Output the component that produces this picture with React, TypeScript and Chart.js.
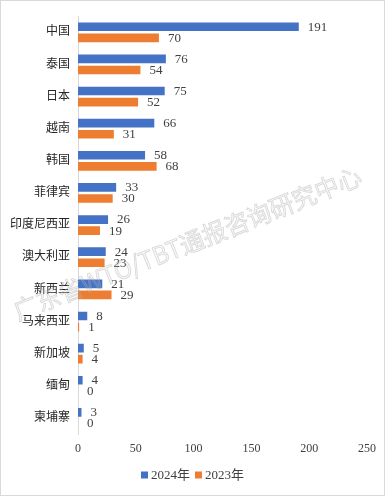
import React, { useEffect, useRef } from 'react';
import { Chart, registerables } from 'chart.js';

Chart.register(...registerables);

const categories = ['中国', '泰国', '日本', '越南', '韩国', '菲律宾', '印度尼西亚', '澳大利亚', '新西兰', '马来西亚', '新加坡', '缅甸', '柬埔寨'];
const values2024 = [191, 76, 75, 66, 58, 33, 26, 24, 21, 8, 5, 4, 3];
const values2023 = [70, 54, 52, 31, 68, 30, 19, 23, 29, 1, 4, 0, 0];
const seriesNames = ['2024年', '2023年'];
const seriesColors = ['#4472C4', '#ED7D31'];
const xMin = 0;
const xMax = 250;
const xStep = 50;
const watermarkText = '广东省WTO/TBT通报咨询研究中心';

const SERIF = '"Liberation Serif", "Times New Roman", "Noto Sans CJK SC", serif';
const W = 383;
const H = 494;

const labelPlugin = {
  id: 'valueLabels',
  afterDatasetsDraw(chart: any) {
    const ctx = chart.ctx;
    ctx.save();
    ctx.font = '13px ' + SERIF;
    ctx.fillStyle = '#404040';
    ctx.textAlign = 'left';
    ctx.textBaseline = 'middle';
    chart.data.datasets.forEach((ds: any, di: number) => {
      const meta = chart.getDatasetMeta(di);
      meta.data.forEach((el: any, i: number) => {
        ctx.fillText(String(ds.data[i]), el.x + 9, el.y + 0.5);
      });
    });
    ctx.restore();
  },
};

const legendPlugin = {
  id: 'customLegend',
  afterDraw(chart: any) {
    const ctx = chart.ctx;
    ctx.save();
    ctx.font = '13px ' + SERIF;
    ctx.textBaseline = 'middle';
    ctx.textAlign = 'left';
    const box = 7;
    const gapText = 3;
    const gapItem = 5;
    const widths = seriesNames.map((n) => ctx.measureText(n).width);
    const total = widths.reduce((a, b) => a + b, 0) + seriesNames.length * (box + gapText) + gapItem * (seriesNames.length - 1);
    let x = W / 2 - total / 2;
    const cy = 474;
    seriesNames.forEach((n, i) => {
      ctx.fillStyle = seriesColors[i];
      ctx.fillRect(x, cy - box / 2, box, box);
      x += box + gapText;
      ctx.fillStyle = '#404040';
      ctx.fillText(n, x, cy + 0.5);
      x += widths[i] + gapItem;
    });
    ctx.restore();
  },
};

const watermarkPlugin = {
  id: 'watermark',
  afterDraw(chart: any) {
    const ctx = chart.ctx;
    ctx.save();
    ctx.translate(17, 320);
    ctx.rotate(-21.7 * Math.PI / 180);
    ctx.font = '25px "Noto Sans CJK SC", sans-serif';
    ctx.textBaseline = 'alphabetic';
    ctx.textAlign = 'left';
    ctx.fillStyle = 'rgba(200,200,200,0.15)';
    ctx.fillText(watermarkText, 0, 0, 372);
    ctx.strokeStyle = 'rgba(170,170,170,0.45)';
    ctx.lineWidth = 0.8;
    ctx.strokeText(watermarkText, 0, 0, 372);
    ctx.restore();
  },
};

export default function App() {
  const ref = useRef<HTMLCanvasElement | null>(null);

  useEffect(() => {
    document.body.style.margin = '0';
    if (!ref.current) return;
    const chart = new Chart(ref.current, {
      type: 'bar',
      data: {
        labels: categories,
        datasets: [
          { label: seriesNames[0], data: values2024, backgroundColor: seriesColors[0], borderWidth: 0, categoryPercentage: 0.69, barPercentage: 0.78 },
          { label: seriesNames[1], data: values2023, backgroundColor: seriesColors[1], borderWidth: 0, categoryPercentage: 0.69, barPercentage: 0.78 },
        ],
      },
      options: {
        indexAxis: 'y',
        responsive: false,
        animation: false,
        devicePixelRatio: 1,
        layout: { padding: { top: 15, right: 16, bottom: 0, left: 0 } },
        plugins: {
          legend: { display: false },
          tooltip: { enabled: false },
        },
        scales: {
          x: {
            min: xMin,
            max: xMax,
            ticks: { stepSize: xStep, padding: 8, color: '#404040', font: { family: SERIF, size: 12 } },
            grid: { display: false, drawTicks: false },
            border: { display: false },
            afterFit(scale: any) { scale.height = 61; },
          },
          y: {
            ticks: { padding: 8, color: '#262626', font: { family: SERIF, size: 12 } },
            grid: { display: false, drawTicks: false },
            border: { display: true, color: '#d9d9d9', width: 1 },
            afterFit(scale: any) { scale.width = 77; },
          },
        },
      },
      plugins: [labelPlugin, legendPlugin, watermarkPlugin],
    } as any);
    return () => chart.destroy();
  }, []);

  return (
    <div style={{ position: 'absolute', left: 0, top: 0, width: 385, height: 496, border: '1px solid #d9d9d9', boxSizing: 'border-box', background: '#fff' }}>
      <canvas ref={ref} width={W} height={H} style={{ display: 'block', width: W, height: H }} />
    </div>
  );
}
